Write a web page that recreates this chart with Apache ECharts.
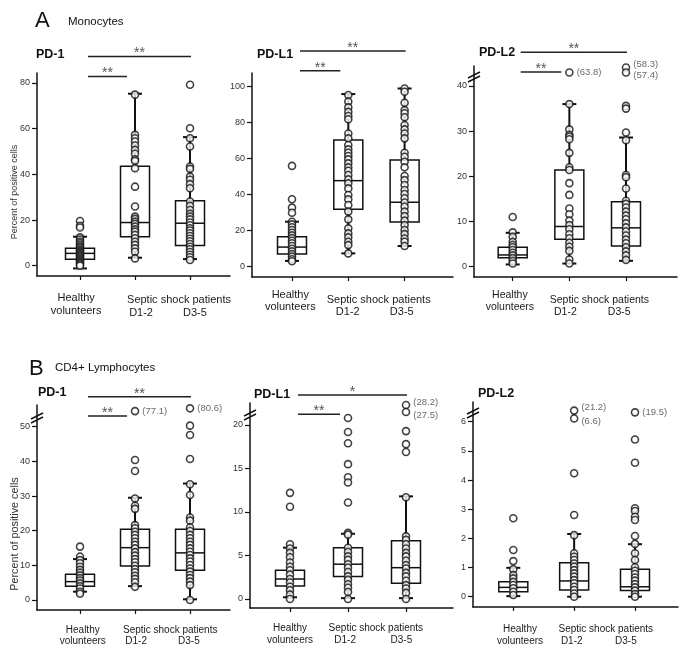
<!DOCTYPE html>
<html>
<head>
<meta charset="utf-8">
<script src="https://cdn.jsdelivr.net/npm/echarts@6/dist/echarts.min.js"></script>
<style>
  html, body { margin: 0; padding: 0; background: #fff; }
  #chart { width: 685px; height: 654px; }
</style>
</head>
<body>
<div id="chart"></div>
<script>
// box stats per group: [min, Q1, median, Q3, max]
// groups: 1 = healthy volunteers, 2 = D1-2, 3 = D3-5

// A - Monocytes, PD-1
const aPd1Ticks = [0, 20, 40, 60, 80];
const aPd1Box = [[-1.2, 2.8, 5.4, 7.6, 12.7], [3.5, 12.7, 18.9, 43.5, 75.3], [2.9, 8.8, 18.6, 28.4, 56.3]];
const aPd1Healthy = [19.6, 17.5, 16.7, 12.4, 11.5, 10.5, 9.8, 9, 8.3, 7.7, 7, 6.5, 6, 5.5, 5, 4.5, 4, 3.5, 3, 2.5, 2, 1.5, 1, 0.5, 0];
const aPd1D12 = [74.9, 57.3, 55.8, 54.4, 52.6, 50.7, 49, 46.6, 45.9, 42.7, 34.6, 25.9, 21.5, 20.5, 19.3, 18.3, 17.1, 15.9, 14.9, 13.5, 12, 10.5, 9.1, 7.6, 6.1, 3.2];
const aPd1D35 = [79.2, 60.2, 55.8, 52.2, 43.4, 42.4, 39, 37.6, 35.7, 33.9, 28.1, 26.2, 24.4, 22.7, 21.5, 20.3, 18.9, 17.7, 16.4, 15.4, 14.2, 13, 11.8, 10.7, 9.5, 8.3, 7.2, 6, 4.8, 3.7, 2.5];
const aPd1Sig = [[1, 3, '**'], [1, 2, '**']];

// A - Monocytes, PD-L1
const aPdl1Ticks = [0, 20, 40, 60, 80, 100];
const aPdl1Box = [[3.2, 7, 10.9, 16.7, 25], [7.4, 31.9, 47.8, 70.4, 95.9], [11.5, 24.8, 35.8, 59.3, 99]];
const aPdl1Healthy = [56, 37.5, 32.8, 30, 25, 23.5, 21.9, 20.4, 18.9, 17.4, 15.9, 14.4, 13, 11.5, 10, 8.5, 7, 5.6, 4.1, 3];
const aPdl1D12 = [95.4, 91.7, 88.5, 86, 83.7, 81.9, 74, 71.3, 67.6, 65.2, 63.3, 61.5, 59.6, 57.4, 55.2, 53.3, 50.9, 48.5, 46.3, 43.5, 39.8, 37.4, 34.3, 30.6, 26.3, 21.3, 18.5, 16.3, 13.9, 12, 7.4];
const aPdl1D35 = [99, 97.2, 91.1, 87, 85.2, 83, 78.7, 76.3, 74, 71.3, 63.3, 61.1, 58.3, 55.2, 50.4, 48.1, 45.4, 42.6, 40.4, 38, 35.7, 33.3, 30.6, 28.1, 25.6, 23.1, 20.4, 18.1, 15.7, 13.9, 11.5];
const aPdl1Sig = [[1, 3, '**'], [1, 2, '**']];

// A - Monocytes, PD-L2
const aPdl2Ticks = [0, 10, 20, 30, 40];
const aPdl2Box = [[0.5, 2, 2.6, 4.3, 7.5], [0.7, 6.1, 8.9, 21.4, 36], [1.3, 4.6, 8.6, 14.4, 28.6]];
const aPdl2Healthy = [11, 7.6, 6.6, 5.5, 4.8, 4.3, 3.7, 3.1, 2.5, 1.9, 1.3, 0.7];
const aPdl2D12 = [36, 30.4, 29.2, 28.8, 28.2, 25.2, 22, 21.4, 18.5, 15.9, 12.9, 11.6, 10.2, 9.2, 8.3, 7.2, 6.3, 5.3, 4.4, 3.5, 1.6, 0.7];
const aPdl2D35 = [35.6, 35, 29.7, 28, 20.3, 19.8, 17.3, 14.6, 13.9, 13.1, 12.2, 11.3, 10.5, 9.6, 8.7, 7.8, 6.9, 6, 5.2, 4.3, 3.4, 2.5, 1.5];
// values above the axis break: [group, drawn at, real value]
const aPdl2Out = [[2, 43, 63.8], [3, 44.1, 58.3], [3, 43, 57.4]];
const aPdl2Sig = [[1, 3, '**'], [1, 2, '**']];

// B - CD4+ lymphocytes, PD-1
const bPd1Ticks = [0, 10, 20, 30, 40, 50];
const bPd1Box = [[2.4, 4, 5.3, 7.4, 11.8], [4, 9.8, 15.1, 20.4, 29.5], [0.2, 8.6, 13.6, 20.4, 33.6]];
const bPd1Healthy = [15.4, 12.5, 11.5, 10.6, 9.6, 8.7, 7.9, 7.1, 6.3, 5.6, 4.8, 4, 3.3, 2.4, 1.8];
const bPd1D12 = [40.4, 37.2, 29.3, 27.2, 26.3, 21.6, 20.7, 19.7, 18.8, 17.8, 16.8, 15.9, 14.9, 13.8, 12.8, 11.8, 10.9, 9.9, 8.9, 8, 7, 6.1, 5.1, 3.8];
const bPd1D35 = [50.3, 47.6, 40.7, 33.4, 30.3, 23.8, 22.9, 20.9, 19.9, 18.8, 17.8, 16.8, 15.9, 14.9, 13.9, 13, 12, 11.1, 10.1, 9.1, 8.2, 7.2, 6.3, 5.3, 4.3, 0];
const bPd1Out = [[2, 54.5, 77.1], [3, 55.3, 80.6]];
const bPd1Sig = [[1, 3, '**'], [1, 2, '**']];

// B - CD4+ lymphocytes, PD-L1
const bPdl1Ticks = [0, 5, 10, 15, 20];
const bPdl1Box = [[0.2, 1.5, 2.3, 3.3, 5.9], [0.1, 2.6, 4, 5.9, 7.5], [0.1, 1.8, 3.6, 6.7, 11.8]];
const bPdl1Healthy = [12.2, 10.6, 6.3, 5.8, 5.3, 4.8, 4.2, 3.7, 3.3, 2.8, 2.3, 1.9, 1.4, 1, 0.5, 0];
const bPdl1D12 = [20.8, 19.2, 17.9, 15.5, 14, 13.4, 11.1, 7.6, 7.4, 5.9, 5.4, 4.9, 4.5, 4, 3.6, 3.1, 2.6, 2.2, 1.7, 1.3, 0.8, 0];
const bPdl1D35 = [19.3, 17.8, 16.9, 11.7, 7.2, 6.8, 6.3, 5.8, 5.3, 4.9, 4.4, 3.9, 3.5, 3, 2.6, 2.1, 1.6, 1.2, 0.7, 0];
const bPdl1Out = [[3, 22.3, 28.2], [3, 21.5, 27.5]];
const bPdl1Sig = [[1, 3, '*'], [1, 2, '**']];

// B - CD4+ lymphocytes, PD-L2
const bPdl2Ticks = [0, 1, 2, 3, 4, 5, 6];
const bPdl2Box = [[0.02, 0.17, 0.32, 0.51, 0.99], [0, 0.23, 0.54, 1.16, 2.15], [0, 0.21, 0.34, 0.94, 1.8]];
const bPdl2Healthy = [2.69, 1.6, 1.22, 0.94, 0.74, 0.63, 0.51, 0.4, 0.29, 0.17, 0.06];
const bPdl2D12 = [4.23, 2.8, 2.11, 1.49, 1.37, 1.26, 1.14, 1.03, 0.91, 0.8, 0.69, 0.57, 0.46, 0.34, 0.23, 0.11, 0];
const bPdl2D35 = [5.39, 4.59, 3.03, 2.94, 2.74, 2.63, 2.08, 1.81, 1.49, 1.26, 1.01, 0.89, 0.78, 0.66, 0.55, 0.43, 0.32, 0.21, 0.09, 0];
const bPdl2Out = [[2, 6.38, 21.2], [2, 6.11, 6.6], [3, 6.32, 19.5]];

// x-axis captions: [first line, second line]
const xCaptions = [['Healthy', 'volunteers'], ['', 'D1-2'], ['Septic shock patients', ''], ['', 'D3-5']];

const FONT = '"Liberation Sans", Arial, sans-serif';
const INK = '#111';

// layout of each small chart (pixels / axis extents), kept apart from the data above
const panels = [
  { title: 'PD-1', titleAt: [36, 55], grid: { left: 37, top: 73, width: 193, height: 203 },
    xRange: [0.218, 3.727], yRange: [-4.51, 84.37], ticks: aPd1Ticks, box: aPd1Box,
    points: [aPd1Healthy, aPd1D12, aPd1D35], out: [], sig: aPd1Sig, sigY: [56.4, 76.5], breakY: null,
    capAt: [0.93, 2.11, 2.8, 3.09], capDy: [22, 24], capGap: 12.5, capSize: 11 },
  { title: 'PD-L1', titleAt: [257, 55], grid: { left: 252, top: 73, width: 201, height: 204 },
    xRange: [0.2895, 3.8596], yRange: [-5.72, 107.6], ticks: aPdl1Ticks, box: aPdl1Box,
    points: [aPdl1Healthy, aPdl1D12, aPdl1D35], out: [], sig: aPdl1Sig, sigY: [51, 70.7], breakY: null,
    capAt: [0.97, 1.99, 2.54, 2.95], capDy: [18.3, 23.3], capGap: 12, capSize: 11 },
  { title: 'PD-L2', titleAt: [479, 53], grid: { left: 474, top: 66, width: 203, height: 211 },
    xRange: [0.3169, 3.9003], yRange: [-2.28, 44.43], ticks: aPdl2Ticks, box: aPdl2Box,
    points: [aPdl2Healthy, aPdl2D12, aPdl2D35], out: aPdl2Out, sig: aPdl2Sig, sigY: [52.3, 72], breakY: 77,
    capAt: [0.95, 1.93, 2.53, 2.88], capDy: [18.3, 23.3], capGap: 12, capSize: 10.5 },
  { title: 'PD-1', titleAt: [38, 392.5], grid: { left: 37, top: 405, width: 193, height: 205 },
    xRange: [0.218, 3.727], yRange: [-2.885, 56.26], ticks: bPd1Ticks, box: bPd1Box,
    points: [bPd1Healthy, bPd1D12, bPd1D35], out: bPd1Out, sig: bPd1Sig, sigY: [396.7, 416], breakY: 418,
    capAt: [1.05, 2.02, 2.64, 2.98], capDy: [20, 20], capGap: 11.7, capSize: 10 },
  { title: 'PD-L1', titleAt: [254, 395], grid: { left: 250, top: 403, width: 203, height: 205 },
    xRange: [0.3103, 3.8103], yRange: [-1.034, 22.53], ticks: bPdl1Ticks, box: bPdl1Box,
    points: [bPdl1Healthy, bPdl1D12, bPdl1D35], out: bPdl1Out, sig: bPdl1Sig, sigY: [395, 414.3], breakY: 415,
    capAt: [1.0, 1.95, 2.48, 2.92], capDy: [20.3, 20.3], capGap: 11.7, capSize: 10 },
  { title: 'PD-L2', titleAt: [478, 394], grid: { left: 473, top: 402, width: 205, height: 205 },
    xRange: [0.3377, 3.7066], yRange: [-0.353, 6.675], ticks: bPdl2Ticks, box: bPdl2Box,
    points: [bPdl2Healthy, bPdl2D12, bPdl2D35], out: bPdl2Out, sig: [], sigY: [], breakY: 413,
    capAt: [1.11, 1.96, 2.52, 2.85], capDy: [22.3, 22.3], capGap: 11.5, capSize: 10 }
];

function line(x1, y1, x2, y2, w) {
  return { type: 'line', shape: { x1, y1, x2, y2 }, style: { stroke: INK, lineWidth: w } };
}

function renderBox(params, api) {
  const x = api.value(0);
  const cx = api.coord([x, 0])[0];
  const y = k => api.coord([x, api.value(k)])[1];
  const hw = 14.5, cw = 7;
  return {
    type: 'group',
    children: [
      line(cx, y(5), cx, y(4), 2),
      line(cx, y(2), cx, y(1), 2),
      line(cx - cw, y(5), cx + cw, y(5), 2),
      line(cx - cw, y(1), cx + cw, y(1), 2),
      { type: 'rect', shape: { x: cx - hw, y: y(4), width: hw * 2, height: y(2) - y(4) },
        style: { fill: 'none', stroke: INK, lineWidth: 1.5 } },
      line(cx - hw, y(3), cx + hw, y(3), 1.5)
    ]
  };
}

const grid = [], xAxis = [], yAxis = [], series = [];

panels.forEach((p, i) => {
  grid.push(p.grid);
  xAxis.push({
    type: 'value', gridIndex: i, min: p.xRange[0], max: p.xRange[1],
    splitLine: { show: false },
    axisLine: { show: true, onZero: false, lineStyle: { color: INK, width: 1.5 } },
    axisTick: { show: true, customValues: [1, 2, 3], length: 4, lineStyle: { color: INK, width: 1.2 } },
    axisLabel: { show: false }
  });
  yAxis.push({
    type: 'value', gridIndex: i, min: p.yRange[0], max: p.yRange[1],
    splitLine: { show: false },
    axisLine: { show: true, onZero: false, lineStyle: { color: INK, width: 1.5 } },
    axisTick: { show: true, customValues: p.ticks, length: 5, lineStyle: { color: INK, width: 1.2 } },
    axisLabel: { customValues: p.ticks, color: '#333', fontSize: 9, margin: 7, fontFamily: FONT }
  });

  series.push({
    type: 'custom', xAxisIndex: i, yAxisIndex: i, silent: true, z: 2,
    data: p.box.map((b, g) => [g + 1].concat(b)),
    encode: { x: 0, y: [1, 2, 3, 4, 5] },
    renderItem: renderBox
  });

  const pts = [];
  p.points.forEach((arr, g) => arr.forEach(v => pts.push([g + 1, v])));
  series.push({
    type: 'scatter', xAxisIndex: i, yAxisIndex: i, silent: true, z: 3,
    symbol: 'circle', symbolSize: 7, data: pts,
    itemStyle: { color: '#fff', borderColor: INK, borderWidth: 1.6 }
  });

  if (p.out.length) {
    series.push({
      type: 'scatter', xAxisIndex: i, yAxisIndex: i, silent: true, z: 3,
      symbol: 'circle', symbolSize: 7,
      data: p.out.map(o => {
        const pair = p.out.filter(q => q[0] === o[0]);
        let dy = 0;
        if (pair.length > 1) dy = o[1] === Math.max(...pair.map(q => q[1])) ? -3 : 3;
        return { value: [o[0], o[1]], label: { offset: [0, dy] } };
      }),
      itemStyle: { color: '#fff', borderColor: INK, borderWidth: 1.6 },
      label: {
        show: true, position: 'right', distance: 3,
        formatter: prm => '(' + p.out[prm.dataIndex][2] + ')',
        color: '#444', fontSize: 9.5, fontFamily: FONT
      }
    });
  }

  // captions under the x axis
  series.push({
    type: 'custom', xAxisIndex: i, yAxisIndex: i, silent: true, z: 4,
    data: p.capAt.map(v => [v, 0]),
    renderItem: (params, api) => {
      const k = params.dataIndex;
      const cx = api.coord([api.value(0), 0])[0];
      const first = params.coordSys.y + params.coordSys.height + p.capDy[k === 0 ? 0 : 1];
      const font = p.capSize + 'px ' + FONT;
      const children = [];
      xCaptions[k].forEach((txt, n) => {
        if (!txt) return;
        children.push({ type: 'text', x: cx, y: first + n * p.capGap,
          style: { text: txt, align: 'center', verticalAlign: 'middle', fill: '#1a1a1a', font } });
      });
      return { type: 'group', children };
    }
  });

  if (p.sig.length) {
    series.push({
      type: 'custom', xAxisIndex: i, yAxisIndex: i, silent: true, z: 4,
      data: p.sig.map(s => [s[0], s[1]]),
      renderItem: (params, api) => {
        const s = p.sig[params.dataIndex];
        const yPix = p.sigY[params.dataIndex];
        const x1 = api.coord([s[0], 0])[0] + 8;
        const x2 = api.coord([s[1], 0])[0] + (s[1] === 3 ? 1 : -8);
        return {
          type: 'group',
          children: [
            { type: 'line', shape: { x1, y1: yPix, x2, y2: yPix }, style: { stroke: '#222', lineWidth: 1.5 } },
            { type: 'text', x: (x1 + x2) / 2, y: yPix - 3,
              style: { text: s[2], align: 'center', verticalAlign: 'middle', fill: '#555', font: '14px ' + FONT } }
          ]
        };
      }
    });
  }

  if (p.breakY !== null) {
    series.push({
      type: 'custom', xAxisIndex: i, yAxisIndex: i, silent: true, z: 4,
      data: [[p.xRange[0], 0]],
      renderItem: (params) => {
        const bx = params.coordSys.x, by = p.breakY;
        return {
          type: 'group',
          children: [line(bx - 6, by + 1, bx + 6, by - 5, 1.5), line(bx - 6, by + 5, bx + 6, by - 1, 1.5)]
        };
      }
    });
  }
});

const graphic = [
  { type: 'text', x: 35, y: 21, style: { text: 'A', font: '22px ' + FONT, fill: '#111', verticalAlign: 'middle' } },
  { type: 'text', x: 68, y: 22, style: { text: 'Monocytes', font: '11.5px ' + FONT, fill: '#111', verticalAlign: 'middle' } },
  { type: 'text', x: 29, y: 369, style: { text: 'B', font: '22px ' + FONT, fill: '#111', verticalAlign: 'middle' } },
  { type: 'text', x: 55, y: 368, style: { text: 'CD4+ Lymphocytes', font: '11.5px ' + FONT, fill: '#111', verticalAlign: 'middle' } },
  { type: 'text', x: 15, y: 192, rotation: Math.PI / 2,
    style: { text: 'Percent of positive cells', font: '9px ' + FONT, fill: '#333', align: 'center', verticalAlign: 'middle' } },
  { type: 'text', x: 15, y: 534, rotation: Math.PI / 2,
    style: { text: 'Percent of positive cells', font: '10.8px ' + FONT, fill: '#333', align: 'center', verticalAlign: 'middle' } }
].concat(panels.map(p => ({
  type: 'text', x: p.titleAt[0], y: p.titleAt[1],
  style: { text: p.title, font: 'bold 12.5px ' + FONT, fill: '#111', verticalAlign: 'middle' }
})));

const chart = echarts.init(document.getElementById('chart'));
chart.setOption({
  animation: false,
  backgroundColor: '#fff',
  grid, xAxis, yAxis, series, graphic
});
</script>
</body>
</html>
